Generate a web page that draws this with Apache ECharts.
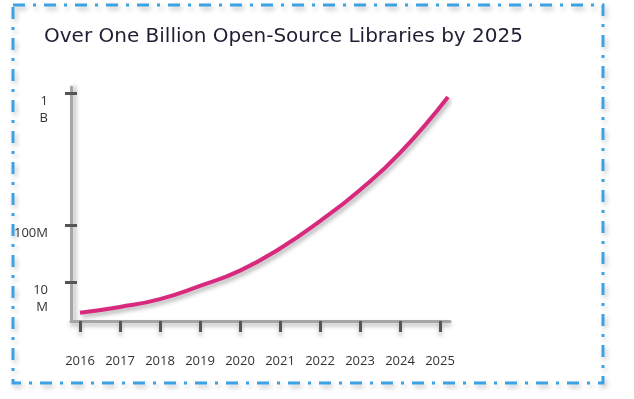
<!DOCTYPE html>
<html>
<head>
<meta charset="utf-8">
<script src="https://cdn.jsdelivr.net/npm/echarts@6/dist/echarts.min.js"></script>
<style>
  html, body { margin: 0; padding: 0; background: #fff; }
  #chart1 { width: 634px; height: 399px; }
</style>
</head>
<body>
<div id="chart1"></div>
<script>
// data
var years = [2016, 2017, 2018, 2019, 2020, 2021, 2022, 2023, 2024, 2025];
var curveYears = [2016, 2017, 2018, 2019, 2020, 2021, 2022, 2023, 2024, 2025.2];
var libraries = [2.1, 3.6, 5.6, 9.0, 28, 63, 127, 339, 591, 973]; // millions
var yTicks = [10, 100, 1000];
var yTickLabels = ['10\nM', '100M', '1\nB'];

// the y axis of the original is neither linear nor log: piecewise stops (millions -> axis units)
var scaleStops = [[0, 0], [10, 39], [100, 96], [1000, 228]];
function toAxis(v) {
    for (var i = 1; i < scaleStops.length; i++) {
        var a = scaleStops[i - 1], b = scaleStops[i];
        if (v <= b[0] || i === scaleStops.length - 1) {
            return a[1] + (v - a[0]) / (b[0] - a[0]) * (b[1] - a[1]);
        }
    }
}
var yTickPos = yTicks.map(toAxis);

var font = '"Open Sans", sans-serif';
var axisGrey = '#a6a6a6';
var tickGrey = '#555';

var myChart = echarts.init(document.getElementById('chart1'));
myChart.setOption({
    animation: false,
    backgroundColor: '#fff',
    title: {
        text: 'Over One Billion Open-Source Libraries by 2025',
        left: 39,
        top: 22,
        textStyle: { fontFamily: '"DejaVu Sans", sans-serif', fontSize: 20, fontWeight: 'normal', color: '#1f1f33' }
    },
    graphic: [{
        type: 'rect',
        shape: { x: 13, y: 5, width: 590, height: 378 },
        style: {
            fill: 'none',
            stroke: '#3da2e3',
            lineWidth: 3,
            lineDash: [12, 8, 3, 8],
            shadowBlur: 5,
            shadowColor: 'rgba(0,0,0,0.25)',
            shadowOffsetX: 2,
            shadowOffsetY: 3
        },
        z: 10
    }],
    grid: { left: 71, top: 87, width: 379, height: 234 },
    xAxis: {
        type: 'value',
        min: 2015.775,
        max: 2025.25,
        axisLine: {
            lineStyle: { color: axisGrey, width: 3, shadowBlur: 4, shadowColor: 'rgba(0,0,0,0.3)', shadowOffsetY: 3 }
        },
        axisTick: {
            customValues: years,
            length: 11,
            lineStyle: { color: tickGrey, width: 3, shadowBlur: 4, shadowColor: 'rgba(0,0,0,0.25)', shadowOffsetY: 4 }
        },
        axisLabel: {
            customValues: years,
            margin: 34,
            fontFamily: font,
            fontSize: 13,
            color: '#333',
            formatter: function (v) { return String(Math.round(v)); }
        },
        splitLine: { show: false }
    },
    yAxis: [{
        type: 'value',
        position: 'left',
        min: 0,
        max: 234,
        axisLine: {
            show: true,
            lineStyle: { color: axisGrey, width: 3, shadowBlur: 4, shadowColor: 'rgba(0,0,0,0.3)', shadowOffsetX: 3 }
        },
        axisTick: {
            show: true,
            customValues: yTickPos,
            length: 6,
            lineStyle: { color: tickGrey, width: 3 }
        },
        axisLabel: {
            customValues: yTickPos,
            margin: 23,
            fontFamily: font,
            fontSize: 13,
            lineHeight: 17,
            verticalAlign: 'top',
            color: '#333',
            formatter: function (v) {
                for (var i = 0; i < yTickPos.length; i++) {
                    if (Math.abs(yTickPos[i] - v) < 0.01) return yTickLabels[i];
                }
                return '';
            }
        },
        splitLine: { show: false }
    }, {
        type: 'value',
        position: 'left',
        offset: 0,
        min: 0,
        max: 234,
        axisLine: { show: false },
        axisTick: {
            show: true,
            inside: true,
            customValues: yTickPos,
            length: 6,
            lineStyle: { color: tickGrey, width: 3 }
        },
        axisLabel: { show: false },
        splitLine: { show: false }
    }],
    series: [{
        type: 'line',
        smooth: true,
        showSymbol: false,
        data: curveYears.map(function (y, i) { return [y, toAxis(libraries[i])]; }),
        lineStyle: {
            color: '#d8297f',
            width: 4,
            shadowBlur: 4,
            shadowColor: 'rgba(0,0,0,0.3)',
            shadowOffsetX: 2,
            shadowOffsetY: 3
        }
    }]
});
</script>
</body>
</html>
